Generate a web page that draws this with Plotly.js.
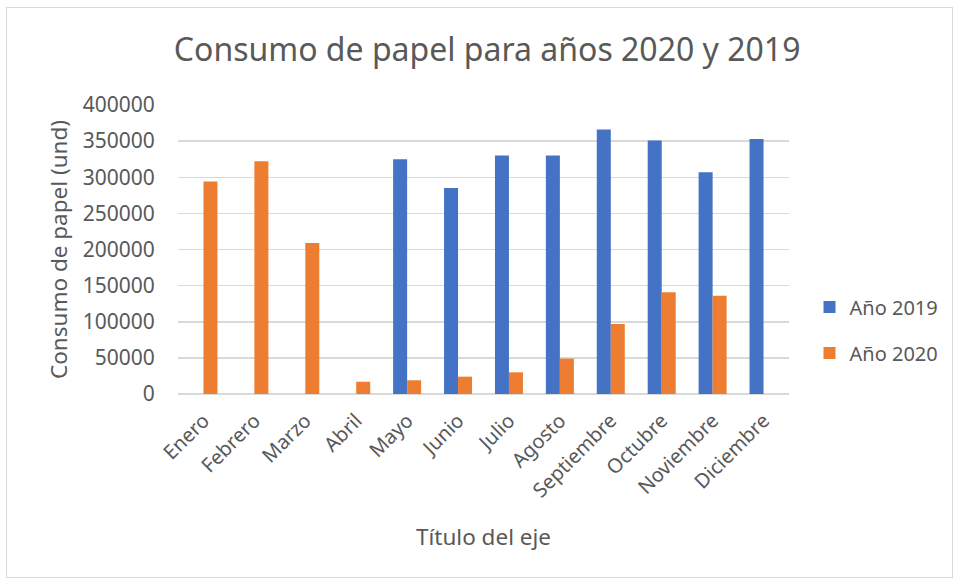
<!DOCTYPE html>
<html>
<head>
<meta charset="utf-8">
<script src="https://cdn.plot.ly/plotly-3.0.1.min.js"></script>
<style>
  html, body { margin: 0; padding: 0; background: #fff; }
  #wrap { position: relative; width: 958px; height: 583px; }
  #frame { position: absolute; left: 6px; top: 7px; width: 947px; height: 571px; border: 1px solid #d9d9d9; box-sizing: border-box; pointer-events: none; }
  #chart { position: absolute; left: 0; top: 0; width: 958px; height: 583px; }
</style>
</head>
<body>
<div id="wrap">
  <div id="chart"></div>
  <div id="frame"></div>
</div>
<script>
const months = ["Enero","Febrero","Marzo","Abril","Mayo","Junio","Julio","Agosto","Septiembre","Octubre","Noviembre","Diciembre"];
const values2019 = [null, null, null, null, 325000, 285000, 330000, 330000, 366000, 351000, 307000, 353000];
const values2020 = [294000, 322000, 209000, 17000, 19000, 24000, 30000, 49000, 97000, 141000, 136000, null];
const seriesNames = ["Año 2019", "Año 2020"];
const chartTitle = "Consumo de papel para años 2020 y 2019";
const xTitle = "Título del eje";
const yTitle = "Consumo de papel (und)";
const yTicks = [0, 50000, 100000, 150000, 200000, 250000, 300000, 350000, 400000];

const FONT = "'Noto Sans', sans-serif";
const GREY = "#595959";

const traces = [
  { type: "bar", name: seriesNames[0], legendgroup: "a", x: months, y: values2019, marker: { color: "#4472C4" } },
  { type: "bar", name: seriesNames[1], legendgroup: "b", x: months, y: values2020, marker: { color: "#ED7D31" } }
];

const layout = {
  width: 958, height: 583,
  margin: { l: 178, r: 169, t: 105, b: 189, pad: 0 },
  paper_bgcolor: "#ffffff", plot_bgcolor: "#ffffff",
  font: { family: FONT, color: GREY, size: 20 },
  title: { text: chartTitle, font: { family: FONT, size: 32, color: GREY }, x: 0.5085, xanchor: "center", xref: "container", y: 0.915, yanchor: "middle" },
  barmode: "group",
  bargap: 0.45,
  bargroupgap: 0,
  showlegend: true,
  legend: {
    xref: "container", yref: "container",
    x: 0.845, xanchor: "left", y: 0.434, yanchor: "middle",
    font: { family: FONT, size: 20, color: GREY },
    traceorder: "grouped",
    tracegroupgap: 17, itemwidth: 30
  },
  xaxis: {
    type: "category",
    tickangle: -45,
    showgrid: false, showline: false, zeroline: false,
    ticks: "", ticklabelstandoff: 10,
    tickfont: { family: FONT, size: 20, color: GREY },
    title: { text: xTitle, font: { family: FONT, size: 22.5, color: GREY }, standoff: 27 },
    automargin: false
  },
  yaxis: {
    range: [0, 400000],
    tickvals: yTicks,
    tickformat: "d",
    showgrid: true, gridcolor: "#d9d9d9", gridwidth: 1.5,
    zeroline: true, zerolinecolor: "#d9d9d9", zerolinewidth: 1.5,
    showline: false,
    ticks: "outside", ticklen: 18, tickcolor: "rgba(0,0,0,0)",
    tickfont: { family: FONT, size: 21, color: GREY },
    title: { text: yTitle, font: { family: FONT, size: 22.5, color: GREY }, standoff: 8 },
    automargin: false
  }
};

Plotly.newPlot("chart", traces, layout, { displayModeBar: false, staticPlot: true });
</script>
</body>
</html>
